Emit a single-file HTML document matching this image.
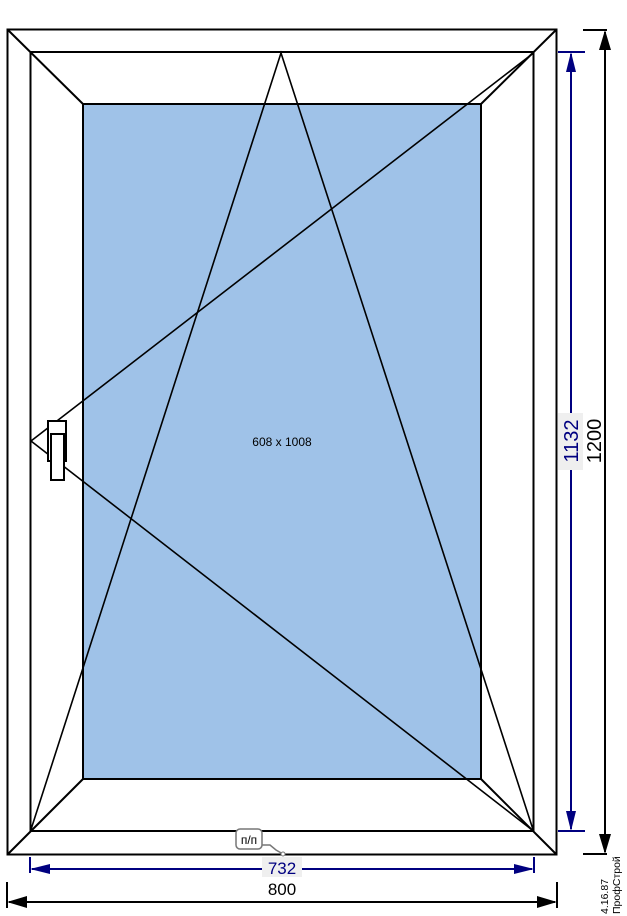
<!DOCTYPE html><html><head><style>body{margin:0;background:#fff}svg{display:block}</style></head><body>
<svg width="627" height="916" xmlns="http://www.w3.org/2000/svg" font-family="Liberation Sans, sans-serif">
<rect x="83" y="104" width="398" height="675" fill="#9fc2e8" stroke="#000" stroke-width="2"/>
<g stroke="#000" stroke-width="2" fill="none">
<rect x="7.5" y="29.5" width="549" height="825"/>
<rect x="30.5" y="52" width="503" height="779"/>
<line x1="7.5" y1="29.5" x2="83" y2="104"/><line x1="556.5" y1="29.5" x2="481" y2="104"/>
<line x1="7.5" y1="854.5" x2="83" y2="779"/><line x1="556.5" y1="854.5" x2="481" y2="779"/>
</g>
<g stroke="#000" stroke-width="1.6" fill="none">
<polyline points="30.5,831 281,53 533.5,831"/>
<polyline points="533.5,53 31,441 533.5,831"/>
</g>
<rect x="48" y="421" width="18" height="40" fill="#fff" stroke="#000" stroke-width="2"/>
<rect x="51" y="434" width="13" height="46" fill="#fff" stroke="#000" stroke-width="2"/>
<text x="282" y="446" font-size="12" text-anchor="middle">608 x 1008</text>
<!-- vertical dims -->
<g stroke="#000" stroke-width="2"><line x1="605" y1="32" x2="605" y2="852"/><line x1="583" y1="30" x2="607" y2="30"/><line x1="583" y1="854" x2="607" y2="854"/></g>
<polygon points="605,30 599,50 611,50" fill="#000"/><polygon points="605,854 599,834 611,834" fill="#000"/>
<g stroke="#000080" stroke-width="2"><line x1="571" y1="54" x2="571" y2="829"/><line x1="558" y1="52" x2="585" y2="52"/><line x1="558" y1="831" x2="585" y2="831"/></g>
<polygon points="571,52 566,72 576,72" fill="#000080"/><polygon points="571,831 566,811 576,811" fill="#000080"/>
<rect x="558" y="413" width="25" height="57" fill="#efefef"/>
<text transform="translate(578,441) rotate(-90)" font-size="20" fill="#000080" text-anchor="middle">1132</text>
<text transform="translate(601,441) rotate(-90)" font-size="20" fill="#000" text-anchor="middle">1200</text>
<!-- horizontal dims -->
<g stroke="#000080" stroke-width="2"><line x1="32" y1="869" x2="532" y2="869"/><line x1="30" y1="857" x2="30" y2="873"/><line x1="534" y1="857" x2="534" y2="873"/></g>
<polygon points="30,869 50,864 50,874" fill="#000080"/><polygon points="534,869 514,864 514,874" fill="#000080"/>
<rect x="262" y="857" width="40" height="20" fill="#efefef"/>
<text x="282" y="874" font-size="17" fill="#000080" text-anchor="middle">732</text>
<g stroke="#000" stroke-width="2"><line x1="9" y1="902" x2="555" y2="902"/><line x1="7" y1="882" x2="7" y2="908"/><line x1="557" y1="882" x2="557" y2="908"/></g>
<polygon points="7,902 27,896 27,908" fill="#000"/><polygon points="557,902 537,896 537,908" fill="#000"/>
<text x="282" y="895" font-size="17" text-anchor="middle">800</text>
<!-- label -->
<polyline points="262,845 270,845 276,850 283,854" fill="none" stroke="#777" stroke-width="1.5"/>
<circle cx="235" cy="854" r="0" />
<circle cx="283" cy="854" r="2" fill="#fff" stroke="#777"/>
<rect x="236" y="829" width="26" height="20" rx="4" fill="#fff" stroke="#777" stroke-width="1.5"/>
<text x="249" y="844" font-size="12" text-anchor="middle">п/п</text>
<text transform="translate(608,914) rotate(-90)" font-size="10.5">4.16.87</text>
<text transform="translate(620,914) rotate(-90)" font-size="10.5">ПрофСтрой</text>
</svg></body></html>
